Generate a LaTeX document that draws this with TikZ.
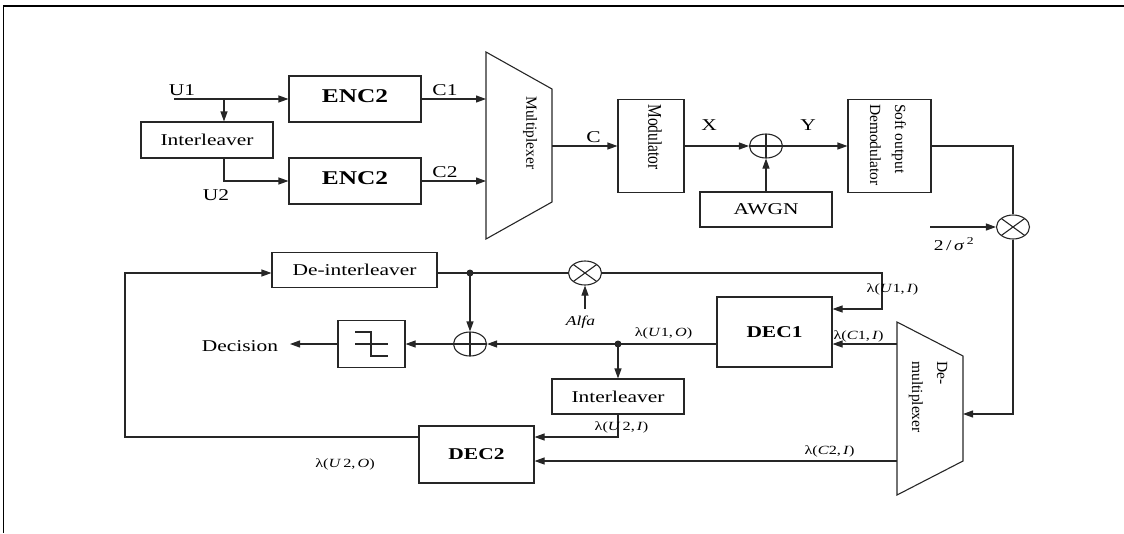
\documentclass[tikz,border=0pt]{standalone}
\usepackage{fontspec}
\setmainfont{Liberation Serif}[FakeStretch=1.3]
\newfontfamily\rotfont{Liberation Serif}
\usetikzlibrary{arrows.meta,shapes.geometric,calc}
\begin{document}
\begin{tikzpicture}[x=1pt,y=-1pt,
  ln/.style={line width=1.1pt, draw=black!85},
  arr/.style={ln, -{Triangle[length=10pt,width=7pt]}},
  box/.style={ln, rectangle, inner sep=0pt, font=\fontsize{16.5}{19}\selectfont},
  encbox/.style={box, font=\fontsize{19.5}{22}\selectfont\bfseries},
  decbox/.style={box, font=\fontsize{16.5}{19}\selectfont\bfseries},
  lbl/.style={inner sep=0pt, font=\fontsize{16.5}{19}\selectfont},
  lam/.style={inner sep=0pt, font=\fontsize{12.5}{15}\selectfont},
  rtxt/.style={inner sep=0pt, rotate=-90, align=left, font=\rotfont\fontsize{15.5}{25}\selectfont},
  sumop/.style={ln, ellipse, minimum width=33pt, minimum height=24pt, inner sep=0pt,
    path picture={\draw[ln] (path picture bounding box.north) -- (path picture bounding box.south)
      (path picture bounding box.west) -- (path picture bounding box.east);}},
  mulop/.style={ln, ellipse, minimum width=33pt, minimum height=24pt, inner sep=0pt,
    path picture={\draw[ln] (path picture bounding box.north west) -- (path picture bounding box.south east)
      (path picture bounding box.south west) -- (path picture bounding box.north east);}},
  dot/.style={fill=black!85}
]
\useasboundingbox (0,0) rectangle (1124,533);
% frame
\draw[line width=1.6pt] (1124,6) -- (3.5,6) -- (3.5,533);

% ---------- encoder part ----------
\node[box, minimum width=132pt, minimum height=36pt] (ilv1) at (207,140) {Interleaver};
\node[encbox, minimum width=132pt, minimum height=46pt] (enc1) at (355,99) {\raisebox{5pt}{ENC2}};
\node[encbox, minimum width=132pt, minimum height=46pt] (enc2) at (355,181) {\raisebox{6pt}{ENC2}};

\coordinate (u1s) at (174,99);
\coordinate (j1) at (224,99);
\draw[arr] (u1s) -- (enc1.west);
\draw[arr] (j1) -- (j1 |- ilv1.north);
\draw[arr] (ilv1.south -| j1) |- (enc2.west);
\node[lbl] (lu1) at (182,90) {U1};
\node[lbl] (lu2) at (216,195) {U2};

% multiplexer
\draw[ln] (486,52) -- (552,89) -- (552,202) -- (486,239) -- cycle;
\coordinate (muxL) at (486,146);
\coordinate (muxR) at (552,146);
\node[rtxt] (muxt) at (530,133) {Multiplexer};
\draw[arr] (enc1.east) -- (enc1.east -| muxL);
\draw[arr] (enc2.east) -- (enc2.east -| muxL);
\node[lbl] (lc1) at (445,90.5) {C1};
\node[lbl] (lc2) at (445,172) {C2};

% modulator, channel, demodulator
\node[box, minimum width=66pt, minimum height=93pt] (mod) at (651,146) {};
\node[rtxt] (modt) at (655,137) {\scalebox{1}[1.25]{Modulator}};
\draw[arr] (muxR) -- (mod.west);
\node[lbl] (lc) at (593.5,137.5) {C};

\node[sumop] (add1) at (766,146) {};
\node[box, minimum width=132pt, minimum height=35pt] (awgn) at (766,209.5) {AWGN};
\draw[arr] (mod.east) -- (add1.west);
\draw[arr] (awgn.north) -- (add1.south);
\node[lbl] (lx) at (709,125) {X};

\node[box, minimum width=83pt, minimum height=93pt] (demod) at (889.5,146) {};
\node[rtxt] (demodt) at (888,145) {Soft output\\Demodulator};
\draw[arr] (add1.east) -- (demod.west);
\node[lbl] (ly) at (808,125) {Y};

% scaling by 2/sigma^2
\node[mulop] (mult1) at (1013,227) {};
\draw[ln] (demod.east) -| (mult1.north);
\coordinate (sig) at (930,227);
\draw[arr] (sig) -- (mult1.west);
\node[inner sep=0pt, font=\fontsize{15}{18}\selectfont] (lsig) at (954,244) {2\,/\,\textit{σ}\,\textsuperscript{2}};

% demultiplexer
\draw[ln] (897,322) -- (963,356) -- (963,461) -- (897,495) -- cycle;
\coordinate (dmxR) at (963,414);
\coordinate (dmxC1) at (897,344);
\coordinate (dmxC2) at (897,461);
\node[rtxt] (dmxt) at (928,397) {De-\\multiplexer};
\draw[arr] (mult1.south) |- (dmxR);

% ---------- decoder part ----------
\node[decbox, minimum width=115pt, minimum height=70pt] (dec1) at (774.5,332) {DEC1};
\node[decbox, minimum width=115pt, minimum height=57pt] (dec2) at (476.5,454.5) {DEC2};
\node[box, minimum width=132pt, minimum height=35pt] (ilv2) at (618,396.5) {Interleaver};
\node[box, minimum width=165pt, minimum height=35pt] (deint) at (354.5,270) {De-interleaver};
\node[box, minimum width=67pt, minimum height=47pt] (hard) at (371.5,344) {};
\draw[ln] (355,344) -- (388,344);
\draw[ln] (355,332) -- (371,332) -- (371,356) -- (388,356);

\node[sumop] (add2) at (470,344) {};
\node[mulop] (mult2) at (585,273) {};

\coordinate (dot1) at (470,273);
\coordinate (dot2) at (618,344);
\coordinate (fb) at (125,273);
\coordinate (u1c) at (882,309);
\coordinate (alfa) at (585,309);
\coordinate (decend) at (290,344);

\draw[arr] (dmxC1) -- (dmxC1 -| dec1.east);
\draw[arr] (dmxC2) -- (dmxC2 -| dec2.east);
\draw[arr] (dec1.west |- dot2) -- (add2.east);
\draw[arr] (dot2) -- (ilv2.north);
\draw[arr] (ilv2.south) |- ([yshift=17.5pt]dec2.east);
\draw[arr] ([yshift=17.5pt]dec2.west) -| (fb) -- (fb -| deint.west);
\draw[ln] (deint.east |- dot1) -- (mult2.west);
\draw[arr] (dot1) -- (add2.north);
\draw[arr] (mult2.east) -| (u1c) -- (u1c -| dec1.east);
\draw[arr] (alfa) -- (mult2.south);
\draw[arr] (add2.west) -- (hard.east);
\draw[arr] (hard.west) -- (decend);
\fill[dot] (dot1) circle (3.5pt);
\fill[dot] (dot2) circle (3.5pt);

\node[lbl] (ldec) at (240,346) {Decision};
\node[inner sep=0pt, font=\fontsize{13.5}{16}\selectfont\itshape] (lalfa) at (580.5,322) {Alfa};
\node[lam] (lu1o) at (663.5,333.5) {λ(\textit{U}1,\,\textit{O})};
\node[lam] (lc1i) at (858.5,336) {λ(\textit{C}1,\,\textit{I})};
\node[lam] (lu1i) at (892.5,289) {λ(\textit{U}1,\,\textit{I})};
\node[lam] (lu2i) at (621.5,427) {λ(\textit{U}\,2,\,\textit{I})};
\node[lam] (lc2i) at (829.5,451) {λ(\textit{C}2,\,\textit{I})};
\node[lam] (lu2o) at (345,464) {λ(\textit{U}\,2,\,\textit{O})};
\end{tikzpicture}
\end{document}
